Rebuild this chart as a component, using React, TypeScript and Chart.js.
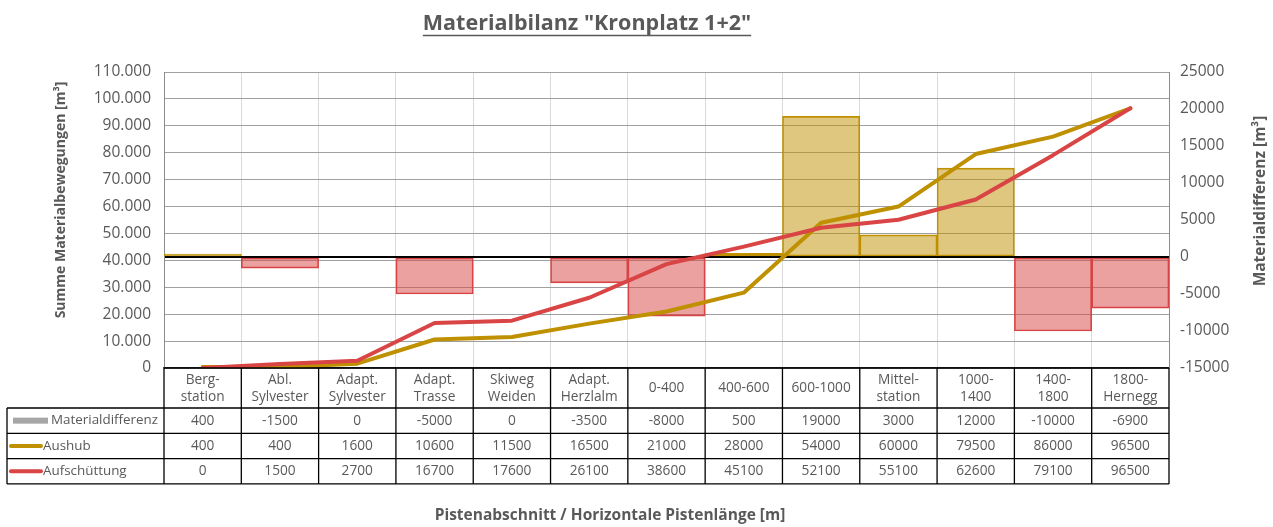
import React, { useEffect, useRef } from "react";
import { Chart, registerables } from "chart.js";

Chart.register(...registerables);

const categories: string[][] = [
  ["Berg-", "station"],
  ["Abl.", "Sylvester"],
  ["Adapt.", "Sylvester"],
  ["Adapt.", "Trasse"],
  ["Skiweg", "Weiden"],
  ["Adapt.", "Herzlalm"],
  ["0-400"],
  ["400-600"],
  ["600-1000"],
  ["Mittel-", "station"],
  ["1000-", "1400"],
  ["1400-", "1800"],
  ["1800-", "Hernegg"],
];
const materialdifferenz = [400, -1500, 0, -5000, 0, -3500, -8000, 500, 19000, 3000, 12000, -10000, -6900];
const aushub = [400, 400, 1600, 10600, 11500, 16500, 21000, 28000, 54000, 60000, 79500, 86000, 96500];
const aufschuettung = [0, 1500, 2700, 16700, 17600, 26100, 38600, 45100, 52100, 55100, 62600, 79100, 96500];

const chartTitle = 'Materialbilanz "Kronplatz 1+2"';
const xTitle = "Pistenabschnitt / Horizontale Pistenlänge [m]";
const yTitle = "Summe Materialbewegungen [m³]";
const y2Title = "Materialdifferenz [m³]";
const seriesNames = ["Materialdifferenz", "Aushub", "Aufschüttung"];

const FONT = "'Open Sans', 'Noto Sans', sans-serif";
const TEXT = "#595959";
const GOLD = "#BF9000";
const RED = "#D94444";
const GOLD_FILL = "rgba(191,144,0,0.5)";
const RED_FILL = "rgba(217,68,68,0.5)";

const tablePlugin = {
  id: "tablePlugin",
  afterDraw(chart: any) {
    const ctx = chart.ctx as CanvasRenderingContext2D;
    const xs = chart.scales.x;
    const area = chart.chartArea;
    const n = categories.length;
    const cw = (area.right - area.left) / n;
    const top = area.bottom;
    const headH = 40;
    const rowH = 25.3;
    const legLeft = 7;
    ctx.save();
    // Title
    ctx.fillStyle = TEXT;
    ctx.font = `bold 21.5px ${FONT}`;
    ctx.textAlign = "center";
    ctx.textBaseline = "alphabetic";
    const tx = 587;
    ctx.fillText(chartTitle, tx, 30);
    const tw = ctx.measureText(chartTitle).width;
    ctx.strokeStyle = TEXT;
    ctx.lineWidth = 1.5;
    ctx.beginPath();
    ctx.moveTo(tx - tw / 2, 35.5);
    ctx.lineTo(tx + tw / 2, 35.5);
    ctx.stroke();

    // axis titles
    ctx.textBaseline = "middle";
    ctx.font = `bold 14px ${FONT}`;
    ctx.save();
    ctx.translate(61, 200);
    ctx.rotate(-Math.PI / 2);
    ctx.fillText(yTitle, 0, 0);
    ctx.restore();
    ctx.font = `bold 15.5px ${FONT}`;
    ctx.save();
    ctx.translate(1261, 201);
    ctx.rotate(-Math.PI / 2);
    ctx.fillText(y2Title, 0, 0);
    ctx.restore();
    ctx.font = `bold 15.5px ${FONT}`;
    ctx.fillText(xTitle, 610, 516);

    // table lines
    ctx.strokeStyle = "#000";
    ctx.lineWidth = 1.3;
    const tableBottom = top + headH + rowH * 3;
    ctx.beginPath();
    ctx.moveTo(area.left, top);
    ctx.lineTo(area.right, top);
    for (let i = 0; i <= n; i++) {
      const x = area.left + i * cw;
      ctx.moveTo(x, top);
      ctx.lineTo(x, tableBottom);
    }
    ctx.moveTo(legLeft, top + headH);
    ctx.lineTo(legLeft, tableBottom);
    for (let r = 0; r <= 3; r++) {
      const y = top + headH + r * rowH;
      ctx.moveTo(legLeft, y);
      ctx.lineTo(area.right, y);
    }
    ctx.stroke();

    // header text
    ctx.fillStyle = TEXT;
    ctx.font = `13.7px ${FONT}`;
    ctx.textAlign = "center";
    ctx.textBaseline = "middle";
    categories.forEach((lines, i) => {
      const cx = xs.getPixelForValue(i);
      if (lines.length === 1) {
        ctx.fillText(lines[0], cx, top + headH / 2);
      } else {
        ctx.fillText(lines[0], cx, top + 12);
        ctx.fillText(lines[1], cx, top + 29);
      }
    });
    const rows = [materialdifferenz, aushub, aufschuettung];
    rows.forEach((vals, r) => {
      const cy = top + headH + r * rowH + rowH / 2;
      vals.forEach((v, i) => {
        ctx.fillText(String(v), xs.getPixelForValue(i), cy);
      });
    });

    // legend column
    ctx.font = `13.4px ${FONT}`;
    ctx.textAlign = "left";
    const cy0 = top + headH + rowH / 2;
    ctx.fillStyle = "#A6A6A6";
    ctx.fillRect(13, cy0 - 3, 35, 6);
    ctx.fillStyle = TEXT;
    ctx.fillText(seriesNames[0], 51, cy0);
    const legendLine = (color: string, cy: number) => {
      ctx.strokeStyle = color;
      ctx.lineWidth = 4;
      ctx.lineCap = "round";
      ctx.beginPath();
      ctx.moveTo(11, cy);
      ctx.lineTo(41, cy);
      ctx.stroke();
    };
    const cy1 = cy0 + rowH;
    const cy2 = cy1 + rowH;
    legendLine(GOLD, cy1);
    legendLine(RED, cy2);
    ctx.fillStyle = TEXT;
    ctx.fillText(seriesNames[1], 43, cy1);
    ctx.fillText(seriesNames[2], 43, cy2);
    ctx.restore();
  },
};

export default function App() {
  const ref = useRef<HTMLCanvasElement | null>(null);
  useEffect(() => {
    document.body.style.margin = "0";
    const canvas = ref.current;
    if (!canvas) return;
    const chart = new Chart(canvas, {
      type: "bar",
      data: {
        labels: categories.map((c) => c.join(" ")),
        datasets: [
          {
            type: "line",
            label: seriesNames[2],
            data: aufschuettung,
            yAxisID: "y",
            borderColor: RED,
            borderWidth: 4,
            pointRadius: 0,
            borderCapStyle: "round",
            borderJoinStyle: "round",
            order: 0,
          } as any,
          {
            type: "line",
            label: seriesNames[1],
            data: aushub,
            yAxisID: "y",
            borderColor: GOLD,
            borderWidth: 4,
            pointRadius: 0,
            borderCapStyle: "round",
            borderJoinStyle: "round",
            order: 1,
          } as any,
          {
            type: "bar",
            label: seriesNames[0],
            data: materialdifferenz,
            yAxisID: "y2",
            backgroundColor: materialdifferenz.map((v) => (v >= 0 ? GOLD_FILL : RED_FILL)),
            borderColor: materialdifferenz.map((v) => (v >= 0 ? GOLD : RED)),
            borderWidth: 1,
            borderSkipped: false,
            categoryPercentage: 1,
            barPercentage: 1,
            order: 2,
          } as any,
        ],
      },
      options: {
        responsive: false,
        animation: false,
        devicePixelRatio: 1,
        layout: { padding: { top: 72, bottom: 159, left: 0, right: 0 } },
        plugins: { legend: { display: false }, tooltip: { enabled: false }, title: { display: false } },
        scales: {
          x: {
            offset: true,
            grid: { color: "#D9D9D9", offset: true, drawTicks: false, lineWidth: 1 },
            border: { display: true, color: "#404040", width: 1.3 },
            ticks: { display: false },
            afterFit: (s: any) => {
              s.height = 0;
            },
          } as any,
          y: {
            position: "left",
            min: 0,
            max: 110000,
            ticks: {
              stepSize: 10000,
              color: TEXT,
              padding: 13,
              font: { family: FONT, size: 15.5 },
              callback: (v: any) => Number(v).toLocaleString("de-DE"),
            },
            grid: { color: "#A0A0A0", drawTicks: false, lineWidth: 1 },
            border: { display: true, color: "#8C8C8C" },
            afterFit: (s: any) => {
              s.width = 164;
            },
          } as any,
          y2: {
            position: "right",
            min: -15000,
            max: 25000,
            ticks: {
              stepSize: 5000,
              color: TEXT,
              padding: 11,
              font: { family: FONT, size: 15.5 },
              callback: (v: any) => String(v),
            },
            grid: {
              drawTicks: false,
              color: (c: any) => (c.tick && c.tick.value === 0 ? "#000000" : "rgba(0,0,0,0)"),
              lineWidth: (c: any) => (c.tick && c.tick.value === 0 ? 2 : 0),
            },
            border: { display: true, color: "#8C8C8C" },
            afterFit: (s: any) => {
              s.width = 104;
            },
          } as any,
        },
      },
      plugins: [tablePlugin],
    });
    return () => chart.destroy();
  }, []);
  return (
    <div style={{ position: "absolute", left: 0, top: 0, width: 1273, height: 527, background: "#fff" }}>
      <canvas ref={ref} width={1273} height={527} />
    </div>
  );
}
